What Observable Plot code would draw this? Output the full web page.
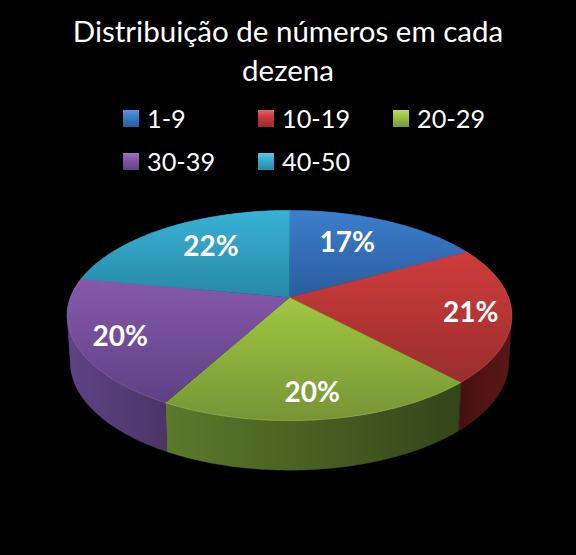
<!DOCTYPE html>
<html lang="pt">
<head>
<meta charset="utf-8">
<script src="https://cdn.jsdelivr.net/npm/d3@7"></script>
<script src="https://cdn.jsdelivr.net/npm/@observablehq/plot@0.6"></script>
<style>
html,body{margin:0;padding:0;background:#000;width:576px;height:555px;overflow:hidden}
#wrap{position:relative;width:576px;height:555px;font-family:Lato,"Open Sans",sans-serif;color:#fff}
#title{position:absolute;left:0;top:11px;width:576px;text-align:center;font-size:29.5px;line-height:39px}
#legend{position:absolute;left:0;top:0;width:576px;height:190px}
.item{position:absolute;display:flex;align-items:center;font-size:25.3px;line-height:43px;height:43px}
.sw{width:16px;height:17px;margin-right:8px;box-sizing:border-box}
svg{position:absolute;left:0;top:190px;display:block;background:#000}
</style>
</head>
<body>
<div id="wrap">
  <div id="title">Distribuição de números em cada<br>dezena</div>
  <div id="legend"></div>
</div>
<script>
// --- data ---
const categories = ["1-9", "10-19", "20-29", "30-39", "40-50"];
const percents = [17, 21, 20, 20, 22];

// --- colours ---
const topLight = ["#3c7fcc", "#cf3c3c", "#a0c843", "#8659ab", "#39b2d6"];
const topDark  = ["#295b9f", "#9a2d2d", "#769436", "#5d4284", "#2887a6"];
const sideLeft = ["#1c3a63", "#451010", "#5c7a2a", "#5f4386", "#1b5a70"];
const sideRight= ["#1c3a63", "#5c1717", "#33451a", "#4a3566", "#1b5a70"];
const rimColor = ["#5f95d8", "#d96a6a", "#b9d770", "#9a78bb", "#66c3df"];

// --- perspective model of the pie ---
const k = 0.171, cx = 289 / 219, rightX = (576 - 289) / 219;
const svgH = 365, apex = 107 / 102;
const lowerScale = 216 / 219, lowerDrop = 46 / 102, lowerY = 105 / 102;
const project = (a, r = 1) => {
  const u = Math.sin(a) * r, v = -Math.cos(a) * r, d = 1 - k * v;
  return {x: u / d, y: v / d};
};
const lower = (a) => {
  const p = project(a);
  return {x: p.x * lowerScale, y: p.y * lowerY + lowerDrop};
};
const arcAngles = (s) => d3.range(s.startAngle, s.endAngle, Math.PI / 180).concat(s.endAngle);
const slices = d3.pie().sort(null)(percents);

// nudges of the percent labels from their radial anchor (px)
const labelNudge = [[-13, 1], [27, 4], [1, 15], [-23, 7], [11, 0]];

// gradients live in a small function mark
const defs = () => {
  const ns = "http://www.w3.org/2000/svg";
  const d = document.createElementNS(ns, "defs");
  const grad = (id, c0, c1, vertical) => {
    const g = document.createElementNS(ns, "linearGradient");
    g.setAttribute("id", id);
    g.setAttribute("x1", 0); g.setAttribute("y1", 0);
    g.setAttribute("x2", vertical ? 0 : 1); g.setAttribute("y2", vertical ? 1 : 0);
    [c0, c1].forEach((c, i) => {
      const s = document.createElementNS(ns, "stop");
      s.setAttribute("offset", i);
      s.setAttribute("stop-color", c);
      g.appendChild(s);
    });
    d.appendChild(g);
  };
  categories.forEach((_, i) => {
    grad("top" + i, topLight[i], topDark[i], true);
    grad("side" + i, sideLeft[i], sideRight[i], false);
  });
  return d;
};

const marks = [defs];
const polygon = (pts, fill) => Plot.line(pts, {x: "x", y: "y", fill, stroke: fill, strokeWidth: 0.4, curve: "linear-closed"});

// walls of the slices: the convex hull of the upper and lower rim
slices.forEach((s, i) => {
  const as = arcAngles(s);
  const rim = [...as.map(a => project(a)), ...as.map(lower)];
  const hull = d3.polygonHull(rim.map(p => [p.x, p.y])).map(([x, y]) => ({x, y}));
  marks.push(polygon(hull, `url(#side${i})`));
});
// top faces
slices.forEach((s, i) => {
  marks.push(polygon([{x: 0, y: 0}, ...arcAngles(s).map(a => project(a))], `url(#top${i})`));
});
// light rim on the visible front edge
slices.forEach((s, i) => {
  if (i === 0 || i === 4) return;
  marks.push(Plot.line(arcAngles(s).map(a => project(a)), {x: "x", y: "y", stroke: rimColor[i], strokeWidth: 1, strokeOpacity: 0.35}));
});
// percent labels
slices.forEach((s, i) => {
  const p = project((s.startAngle + s.endAngle) / 2, 0.7);
  marks.push(Plot.text([p], {
    x: "x", y: "y", text: () => percents[i] + "%",
    dx: labelNudge[i][0], dy: labelNudge[i][1],
    fill: "#fff", fontWeight: 700, fontSize: 28, fontFamily: "Lato, 'Open Sans', sans-serif",
    textAnchor: "middle", lineAnchor: "middle"
  }));
});

const chart = Plot.plot({
  width: 576, height: svgH,
  marginTop: 0, marginRight: 0, marginBottom: 0, marginLeft: 0,
  style: {background: "#000"},
  x: {domain: [-cx, rightX], range: [0, 576], axis: null},
  y: {domain: [-apex, (svgH - 107) / 102], range: [0, svgH], axis: null},
  marks
});
document.getElementById("wrap").appendChild(chart);

// legend
const colLeft = [123, 258, 393], rowTop = [97, 140];
const legend = d3.select("#legend");
categories.forEach((c, i) => {
  const item = legend.append("div").attr("class", "item")
    .style("left", colLeft[i % 3] + "px")
    .style("top", rowTop[Math.floor(i / 3)] + "px");
  item.append("div").attr("class", "sw")
    .style("background", `linear-gradient(180deg, ${rimColor[i]} 0%, ${topLight[i]} 35%, ${topDark[i]} 100%)`);
  item.append("span").text(c);
});
</script>
</body>
</html>
